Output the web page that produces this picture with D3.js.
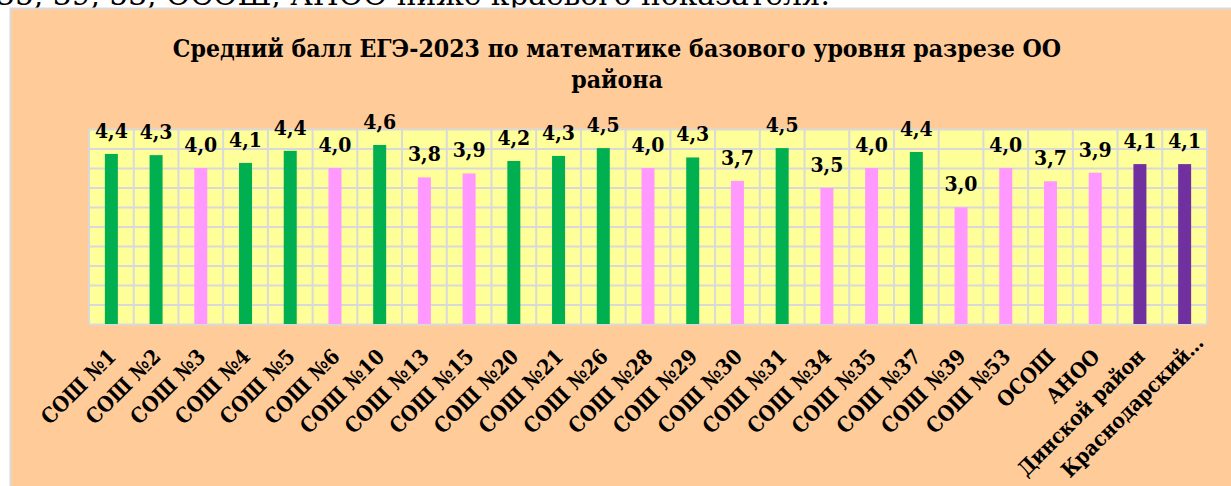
<!DOCTYPE html>
<html>
<head>
<meta charset="utf-8">
<script src="https://cdn.jsdelivr.net/npm/d3@7"></script>
<style>
  body { margin: 0; background: #fff; }
  svg { display: block; }
  text { font-stretch: condensed; }
</style>
</head>
<body>
<svg id="chart"></svg>
<script>
// data
let categories = ["СОШ №1", "СОШ №2", "СОШ №3", "СОШ №4", "СОШ №5", "СОШ №6", "СОШ №10", "СОШ №13",
  "СОШ №15", "СОШ №20", "СОШ №21", "СОШ №26", "СОШ №28", "СОШ №29", "СОШ №30", "СОШ №31", "СОШ №34",
  "СОШ №35", "СОШ №37", "СОШ №39", "СОШ №53", "ОСОШ", "АНОО", "Динской район", "Краснодарский…"];
let scores = [4.36, 4.33, 4.0, 4.13, 4.44, 4.0, 4.59, 3.76, 3.86, 4.18, 4.31, 4.51, 4.0, 4.27, 3.67,
  4.51, 3.49, 4.0, 4.41, 2.99, 4.0, 3.66, 3.88, 4.1, 4.1];
// hi = above the regional score, lo = below, ref = district / region
let groups = ["hi", "hi", "lo", "hi", "hi", "lo", "hi", "lo", "lo", "hi", "hi", "hi", "lo", "hi", "lo",
  "hi", "lo", "lo", "hi", "lo", "lo", "lo", "lo", "ref", "ref"];
let yTicks = [0, 0.5, 1, 1.5, 2, 2.5, 3, 3.5, 4, 4.5, 5];
let titleLines = ["Средний балл ЕГЭ-2023 по математике базового уровня разрезе ОО", "района"];
let topText = "35, 39, 53, ОСОШ, АНОО ниже краевого показателя.";

let colors = { hi: "#00B050", lo: "#FF99FF", ref: "#7030A0" };
let serif = "'DejaVu Serif Condensed', 'DejaVu Serif', serif";

let config = { width: 1231, height: 486 };
let plot = { left: 89, right: 1207, top: 129, bottom: 324 };

let svg = d3.select("#chart")
  .attr("width", config.width)
  .attr("height", config.height);

// clipped line of document text above the chart
svg.append("text")
  .attr("x", -4)
  .attr("y", 5)
  .attr("textLength", 834)
  .attr("lengthAdjust", "spacingAndGlyphs")
  .style("font-family", serif)
  .attr("font-size", 29)
  .attr("fill", "#000")
  .text(topText);

// chart area
svg.append("rect")
  .attr("x", 10.5)
  .attr("y", 8.5)
  .attr("width", config.width)
  .attr("height", config.height)
  .attr("fill", "#FFCC99")
  .attr("stroke", "#D9D9D9")
  .attr("stroke-width", 2);

// title
let title = svg.append("text")
  .attr("text-anchor", "middle")
  .style("font-family", serif)
  .attr("font-weight", "bold")
  .attr("font-size", 24.6)
  .attr("fill", "#000");
title.selectAll("tspan")
  .data(titleLines)
  .enter().append("tspan")
  .attr("x", 617)
  .attr("y", (d, i) => 57 + i * 31)
  .text(d => d);

let x = d3.scaleBand()
  .domain(categories)
  .range([plot.left, plot.right])
  .padding(0);

let y = d3.scaleLinear()
  .domain([0, 5])
  .range([plot.bottom, plot.top]);

// plot area
svg.append("rect")
  .attr("x", plot.left)
  .attr("y", plot.top)
  .attr("width", plot.right - plot.left)
  .attr("height", plot.bottom - plot.top)
  .attr("fill", "#FFFF99");

// horizontal grid
let hGrid = d3.axisLeft(y)
  .tickValues(yTicks)
  .tickSize(-(plot.right - plot.left))
  .tickFormat("");
let hg = svg.append("g")
  .attr("transform", `translate(${plot.left},0)`)
  .call(hGrid);
hg.select(".domain").remove();
hg.selectAll("line").attr("stroke", "#D9D9D9").attr("stroke-width", 2);

// vertical grid at category boundaries
let bounds = categories.map(c => x(c)).concat([plot.right]);
svg.append("g")
  .selectAll("line")
  .data(bounds)
  .enter().append("line")
  .attr("x1", d => d)
  .attr("x2", d => d)
  .attr("y1", plot.top)
  .attr("y2", plot.bottom)
  .attr("stroke", "#D9D9D9")
  .attr("stroke-width", 2);

let rows = categories.map((c, i) => ({ name: c, v: scores[i], g: groups[i] }));
let barW = 13;

svg.append("g")
  .selectAll("rect")
  .data(rows)
  .enter().append("rect")
  .attr("x", d => x(d.name) + x.bandwidth() / 2 - barW / 2)
  .attr("y", d => y(d.v))
  .attr("width", barW)
  .attr("height", d => y(0) - y(d.v))
  .attr("fill", d => colors[d.g]);

// value labels
let fmt = v => d3.format(".1f")(v).replace(".", ",");
svg.append("g")
  .selectAll("text")
  .data(rows)
  .enter().append("text")
  .attr("x", d => x(d.name) + x.bandwidth() / 2)
  .attr("y", d => y(d.v) - 16)
  .attr("text-anchor", "middle")
  .style("font-family", serif)
  .attr("font-weight", "bold")
  .attr("font-size", 21)
  .attr("fill", "#000")
  .text(d => fmt(d.v));

// category labels, rotated
svg.append("g")
  .selectAll("text")
  .data(rows)
  .enter().append("text")
  .attr("transform", d => {
    let cx = x(d.name) + x.bandwidth() / 2 + 6;
    return `translate(${cx},358) rotate(-45)`;
  })
  .attr("dx", d => d.name.endsWith("…") ? 20 : 0)
  .attr("text-anchor", "end")
  .style("font-family", serif)
  .attr("font-weight", "bold")
  .attr("font-size", 21)
  .attr("fill", "#000")
  .text(d => d.name);
</script>
</body>
</html>
